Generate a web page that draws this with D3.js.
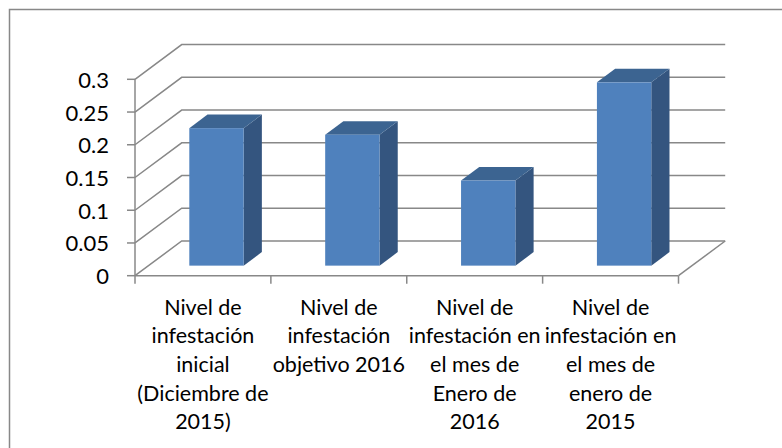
<!DOCTYPE html>
<html>
<head>
<meta charset="utf-8">
<script src="https://cdn.jsdelivr.net/npm/d3@7/dist/d3.min.js"></script>
<style>
  html, body { margin: 0; padding: 0; background: #ffffff; }
  svg { display: block; }
</style>
</head>
<body>
<svg id="chart" width="782" height="448"></svg>
<script>
// ---- data ----
const categories = [
  "Nivel de infestación inicial (Diciembre de 2015)",
  "Nivel de infestación objetivo 2016",
  "Nivel de infestación en el mes de Enero de 2016",
  "Nivel de infestación en el mes de enero de 2015"
];
const categoryLines = [
  ["Nivel de", "infestación", "inicial", "(Diciembre de", "2015)"],
  ["Nivel de", "infestación", "objetivo 2016"],
  ["Nivel de", "infestación en", "el mes de", "Enero de", "2016"],
  ["Nivel de", "infestación en", "el mes de", "enero de", "2015"]
];
const values = [0.21, 0.2, 0.13, 0.28];
const yTicks = [0, 0.05, 0.1, 0.15, 0.2, 0.25, 0.3];
const yTickLabels = ["0", "0.05", "0.1", "0.15", "0.2", "0.25", "0.3"];

// ---- layout ----
const svg = d3.select("#chart");
const frontLeft = 135, frontRight = 678.5;
const depthX = 46.7, depthY = 34.7;      // full depth offset of the 3D box
const barFront = 0.29, barBack = 0.68;   // bar position in depth (fraction)
const gridColor = "#888888";
const font = "Lato, 'Open Sans', sans-serif";

const x = d3.scaleBand().domain(categories).range([frontLeft, frontRight]).paddingInner(0.6).paddingOuter(0.3);
const xBand = d3.scaleBand().domain(categories).range([frontLeft, frontRight]);
const y = d3.scaleLinear().domain([0, 0.3]).range([275.7, 79.3]);

// outer frame
svg.append("rect")
  .attr("x", 9.5).attr("y", 9.5).attr("width", 800).attr("height", 500)
  .attr("fill", "none").attr("stroke", gridColor).attr("stroke-width", 1.5);

// back wall gridlines + left wall diagonals
const grid = svg.append("g").attr("fill", "none").attr("stroke", gridColor).attr("stroke-width", 1.5);
yTicks.forEach(t => {
  const yy = y(t);
  grid.append("path")
    .attr("d", d3.line()([[frontLeft, yy], [frontLeft + depthX, yy - depthY], [frontRight + depthX, yy - depthY]]));
});
// floor right edge
grid.append("path")
  .attr("d", d3.line()([[frontRight, y(0)], [frontRight + depthX, y(0) - depthY]]));

// bars
const bars = svg.append("g");
const dX = (barBack - barFront) * depthX, dY = (barBack - barFront) * depthY;
values.forEach((v, i) => {
  const c = categories[i];
  const x0 = x(c) + barFront * depthX;
  const x1 = x0 + x.bandwidth();
  const yb = y(0) - barFront * depthY;
  const yt = y(v) - barFront * depthY;
  // side
  bars.append("path")
    .attr("d", d3.line()([[x1, yt], [x1 + dX, yt - dY], [x1 + dX, yb - dY], [x1, yb]]) + "Z")
    .attr("fill", "#34557f");
  // top
  bars.append("path")
    .attr("d", d3.line()([[x0, yt], [x1, yt], [x1 + dX, yt - dY], [x0 + dX, yt - dY]]) + "Z")
    .attr("fill", "#3c6491");
  // front
  bars.append("rect")
    .attr("x", x0).attr("y", yt).attr("width", x1 - x0).attr("height", yb - yt)
    .attr("fill", "#4f81bd");
});

// front axes
const axes = svg.append("g").attr("fill", "none").attr("stroke", gridColor).attr("stroke-width", 1.5);
axes.append("line").attr("x1", frontLeft).attr("x2", frontLeft).attr("y1", y(0.3)).attr("y2", y(0) + 8);
axes.append("line").attr("x1", frontLeft).attr("x2", frontRight).attr("y1", y(0)).attr("y2", y(0));
yTicks.forEach(t => {
  axes.append("line").attr("x1", frontLeft - 8).attr("x2", frontLeft).attr("y1", y(t)).attr("y2", y(t));
});
categories.forEach(c => {
  const xx = xBand(c) + xBand.bandwidth();
  axes.append("line").attr("x1", xx).attr("x2", xx).attr("y1", y(0)).attr("y2", y(0) + 8);
});

// y tick labels
svg.append("g").selectAll("text").data(yTicks).join("text")
  .attr("x", 109).attr("y", d => y(d))
  .attr("text-anchor", "end").attr("dominant-baseline", "central")
  .attr("font-family", font).attr("font-size", 22).attr("fill", "#000")
  .text((d, i) => yTickLabels[i]);

// category labels
const lab = svg.append("g").attr("font-family", font).attr("font-size", 21.5).attr("fill", "#000").attr("text-anchor", "middle");
categories.forEach((c, i) => {
  const cx = xBand(c) + xBand.bandwidth() / 2;
  const t = lab.append("text").attr("x", cx);
  categoryLines[i].forEach((ln, j) => {
    t.append("tspan").attr("x", cx).attr("y", 306.7 + j * 28.6).attr("dominant-baseline", "central").text(ln);
  });
});
</script>
</body>
</html>
